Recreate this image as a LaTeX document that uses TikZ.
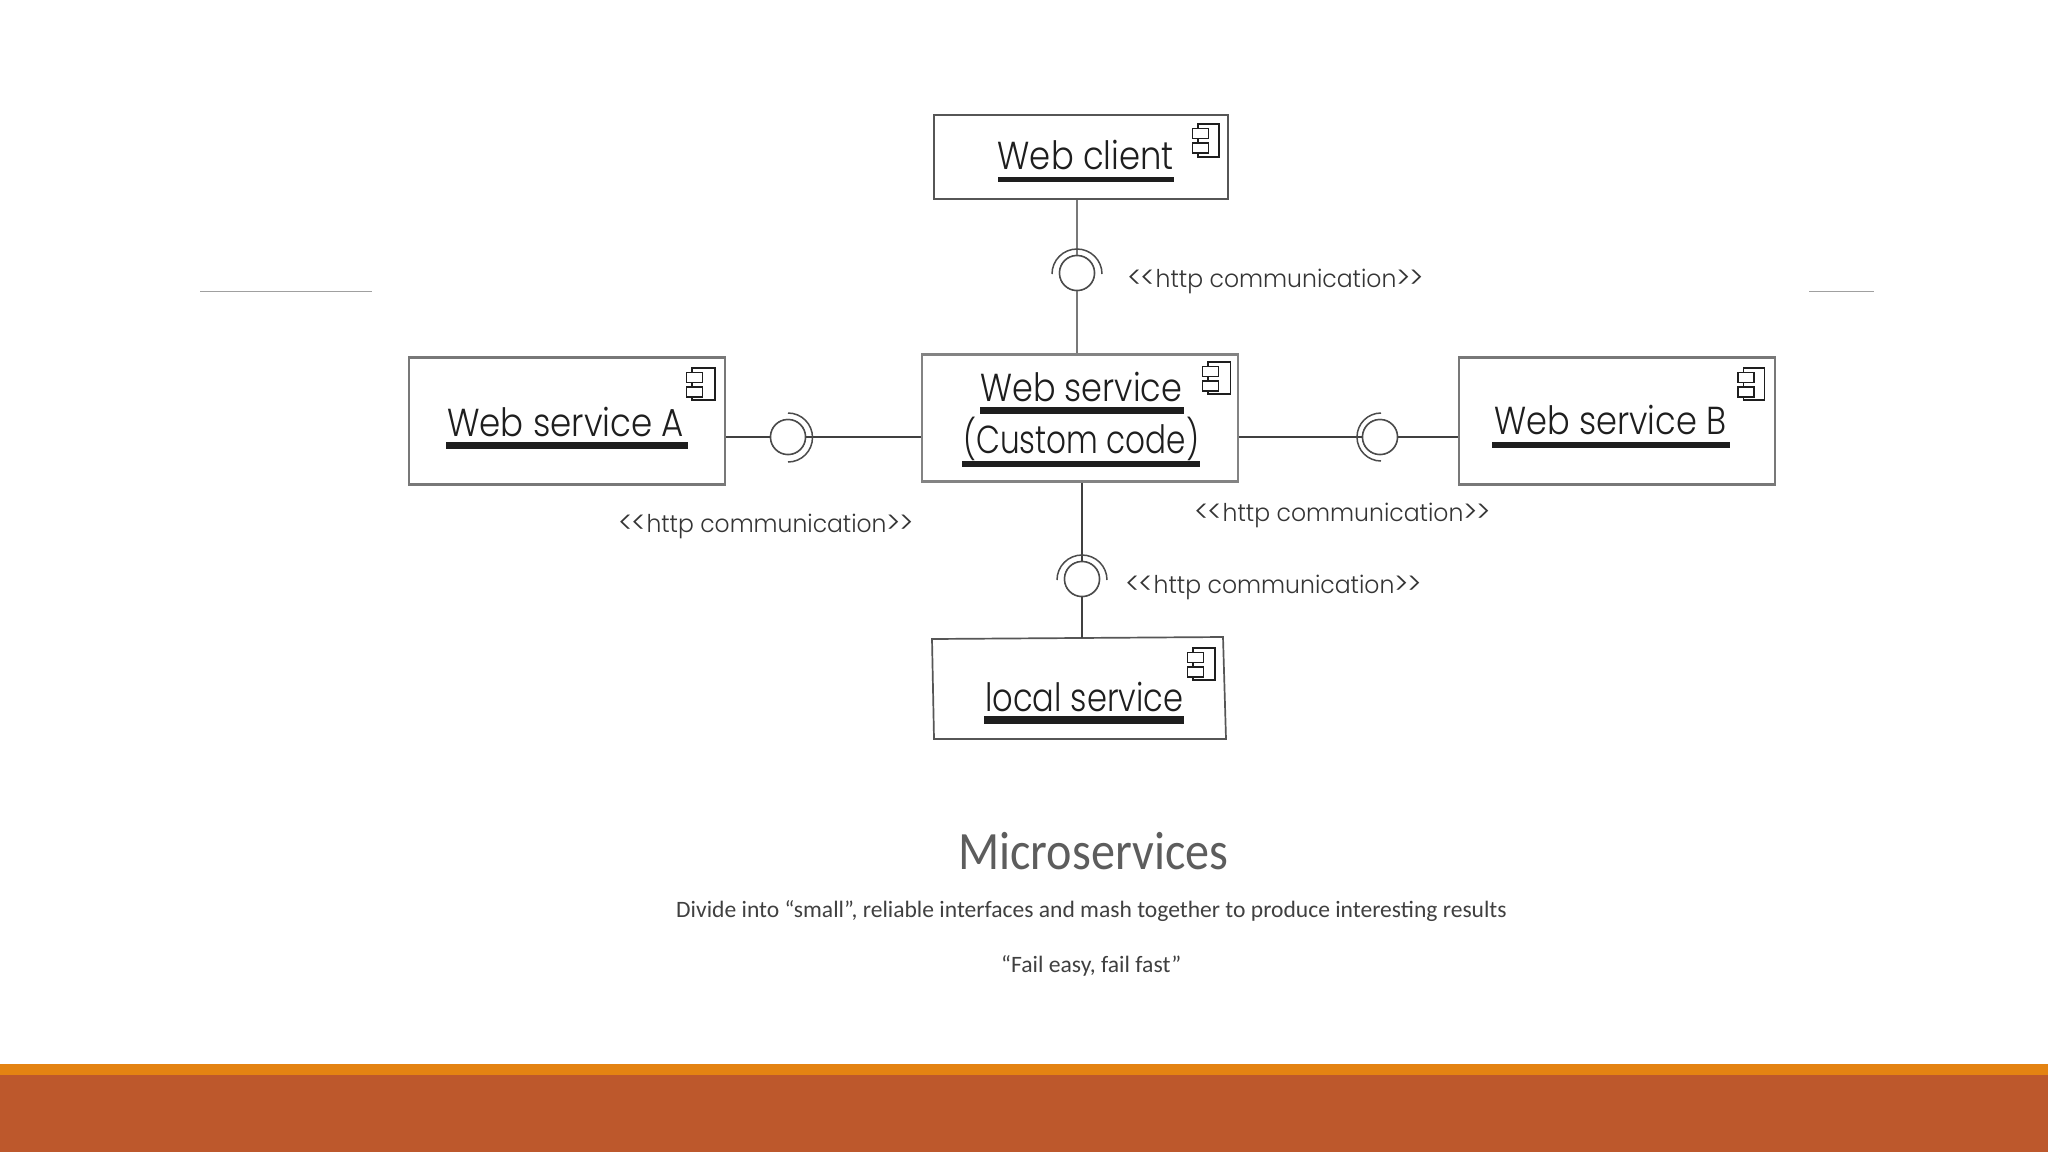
\documentclass[tikz,border=0pt]{standalone}
\usepackage{graphicx}
\usepackage{fontspec}
\setmainfont{Carlito}
\newfontfamily\diagfont{Poppins}[UprightFont=* Light]
\definecolor{rust}{HTML}{BD582C}
\definecolor{amber}{HTML}{E48312}
\definecolor{capt}{HTML}{404040}
\definecolor{ink}{HTML}{1E1E1E}
\definecolor{rule}{HTML}{A0A0A0}
\newcommand\fitw[2]{\resizebox{#1pt}{\height}{#2}}
\newcommand\httplabel{\raisebox{-1pt}{\scalebox{1.25}{<\kern-1pt<}}http communication\raisebox{-1pt}{\scalebox{1.25}{>\kern-1pt>}}}
\tikzset{
  comp/.style={draw=ink!75,line width=1.7pt,inner sep=0pt},
  title/.style={anchor=base west,inner sep=0pt,text=ink,font=\diagfont\fontsize{39}{39}\selectfont},
  stereo/.style={anchor=base west,inner sep=0pt,text=ink!90,font=\diagfont\fontsize{24.5}{24.5}\selectfont},
  capline/.style={anchor=base west,inner sep=0pt,text=capt,font=\fontsize{23.5}{23.5}\selectfont},
  iface/.style={circle,draw=ink!80,line width=1.5pt,minimum size=35pt,inner sep=0pt},
  wire/.style={draw=ink!85,line width=1.6pt},
  socket/.style={draw=ink!80,line width=1.5pt},
  bar/.style={fill=ink,draw=none},
  icon/.style={draw=ink,line width=1.2pt,fill=white},
}
\newcommand\compicon[4]{%
  \draw[icon] (#1,#2) rectangle (#3,#4);
  \draw[icon] (#1-5.5,#2+4.5) rectangle (#1+10.5,#2+14.5);
  \draw[icon] (#1-5.5,#2+19) rectangle (#1+10.5,#2+29);
}
\begin{document}
\begin{tikzpicture}[x=1pt,y=-1pt]
\useasboundingbox (0,0) rectangle (2048,1152);
\fill[white] (0,0) rectangle (2048,1152);
% footer bands
\fill[rust] (0,1074.5) rectangle (2048,1152);
\fill[amber] (0,1063.5) rectangle (2048,1075);
% faint rules
\draw[rule,line width=1.5pt] (200,291.5) -- (372,291.5);
\draw[rule,line width=1.5pt] (1809,291.5) -- (1874,291.5);

% boxes
\node[comp,minimum width=294pt,minimum height=84pt] (client) at (1081,157) {};
\node[comp,draw=ink!55,line width=2.6pt,minimum width=316pt,minimum height=127pt] (svc) at (1080,418) {};
\node[comp,draw=ink!60,line width=2.2pt,minimum width=316pt,minimum height=127pt] (svca) at (567,421) {};
\node[comp,draw=ink!60,line width=2.2pt,minimum width=316pt,minimum height=127pt] (svcb) at (1617,421) {};
\coordinate (ltl) at (932,639);
\coordinate (ltr) at (1223,637);
\coordinate (lbr) at (1226,739);
\coordinate (lbl) at (934,739);
\draw[comp,draw=ink!75] (ltl) -- (ltr) -- (lbr) -- (lbl) -- cycle;
\coordinate (ltop) at (1082,638);

% lollipops
\node[iface] (if1) at (1077,273) {};
\node[iface] (if2) at (1380,437) {};
\node[iface] (if3) at (788,437) {};
\node[iface] (if4) at (1082,579) {};

% connectors
\draw[wire,draw=ink!60] (client.south -| if1) -- (if1);
\draw[wire,draw=ink!60] (if1) -- (svc.north -| if1);
\draw[wire] (svc.east |- if2) -- (if2);
\draw[wire] (if2) -- (svcb.west |- if2);
\draw[wire] (svca.east |- if3) -- (if3);
\draw[wire] (if3) -- (svc.west |- if3);
\draw[wire] (svc.south -| if4) -- (if4);
\draw[wire] (if4) -- (ltop);
% circles on top of the wire joints
\node[iface,fill=white] at (if1) {};
\node[iface,fill=white] at (if2) {};
\node[iface,fill=white] at (if3) {};
\node[iface,fill=white] at (if4) {};

% sockets
\draw[socket] ([shift={(25,1)}]if1.center) arc[start angle=0,end angle=-180,radius=25];
\draw[socket] ([shift={(1,24)}]if2.center) arc[start angle=90,end angle=270,radius=24];
\draw[socket] ([shift={(0,25)}]if3.center) arc[start angle=90,end angle=-90,radius=24.5];
\draw[socket] ([shift={(25,1)}]if4.center) arc[start angle=0,end angle=-180,radius=25];

% component icons
\compicon{1198}{124}{1219}{157}
\compicon{1208}{362}{1230.5}{394}
\compicon{692}{368}{715}{400}
\compicon{1743.5}{368}{1764.5}{400}
\compicon{1193}{648}{1215}{680}

% component names
\node[title] (t1) at (997.5,169) {\fitw{176}{Web client}};
\node[title] (t2) at (980,401) {\fitw{202}{Web service}};
\node[title] (t3) at (963,453) {\fitw{236}{(Custom code)}};
\node[title] (t4) at (447,436) {\fitw{237}{Web service A}};
\node[title] (t5) at (1494,434) {\fitw{232}{Web service B}};
\node[title] (t6) at (985,711) {\fitw{198}{local service}};

% name underlines
\fill[bar] (997.5,177) rectangle (1174,182);
\fill[bar] (979.5,407) rectangle (1184,414);
\fill[bar] (962,461) rectangle (1199.5,467);
\fill[bar] (446,442) rectangle (687.5,449);
\fill[bar] (1492,442) rectangle (1730,447.5);
\fill[bar] (984,716) rectangle (1184,724);

% stereotypes
\node[stereo] (s1) at (1127,287) {\fitw{297}{\httplabel}};
\node[stereo] (s2) at (618,532) {\fitw{296}{\httplabel}};
\node[stereo] (s3) at (1194,521) {\fitw{297}{\httplabel}};
\node[stereo] (s4) at (1125,593) {\fitw{297}{\httplabel}};

% caption
\node[capline,text=capt!85,font=\fontsize{54}{54}\selectfont] (cap) at (958,869) {\fitw{270}{Microservices}};
\node[capline] (l1) at (676,917) {\fitw{830.5}{Divide into “small”, reliable interfaces and mash together to produce interesting results}};
\node[capline] (l2) at (1001,972) {\fitw{180}{“Fail easy, fail fast”}};
\end{tikzpicture}
\end{document}
